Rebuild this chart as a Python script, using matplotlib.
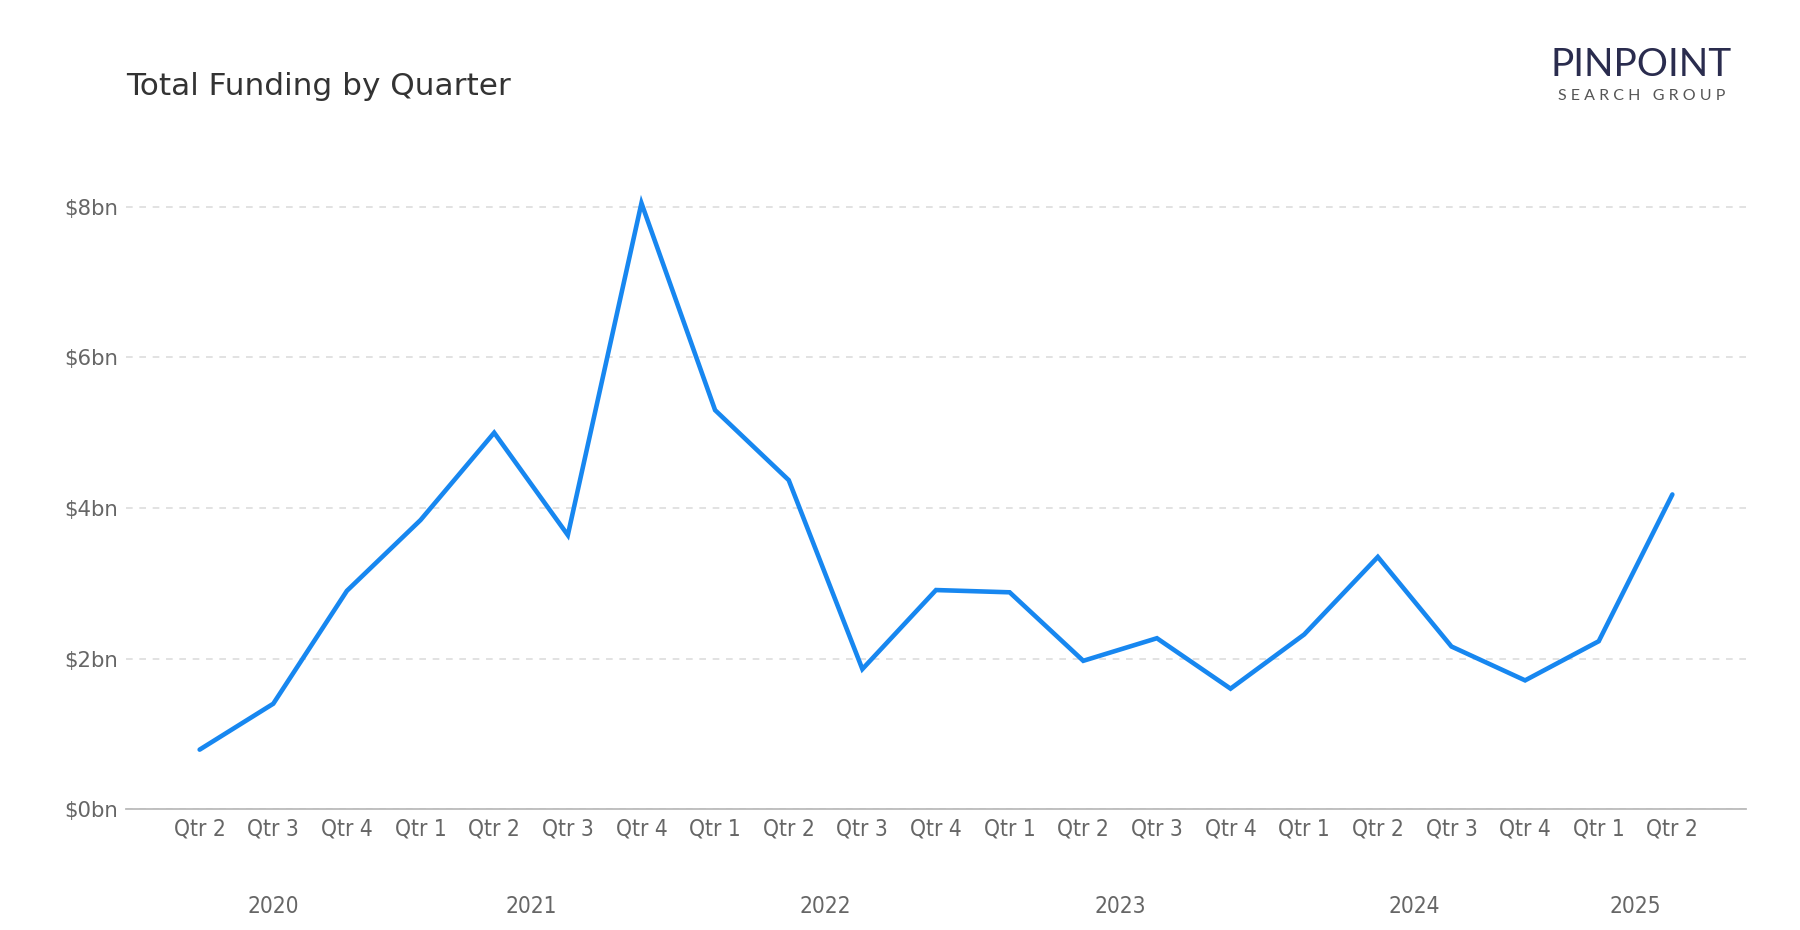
import numpy as np
import matplotlib.pyplot as plt
import matplotlib.transforms as mtransforms

plt.rcParams['font.family'] = ['DejaVu Sans']

# данные
quarters = ['Qtr 2', 'Qtr 3', 'Qtr 4',
            'Qtr 1', 'Qtr 2', 'Qtr 3', 'Qtr 4',
            'Qtr 1', 'Qtr 2', 'Qtr 3', 'Qtr 4',
            'Qtr 1', 'Qtr 2', 'Qtr 3', 'Qtr 4',
            'Qtr 1', 'Qtr 2', 'Qtr 3', 'Qtr 4',
            'Qtr 1', 'Qtr 2']
years = ['2020', '2021', '2022', '2023', '2024', '2025']
year_counts = [3, 4, 4, 4, 4, 2]
funding = [0.79, 1.40, 2.90, 3.84, 5.00, 3.64, 8.05, 5.30, 4.37, 1.86, 2.91,
           2.88, 1.97, 2.27, 1.60, 2.32, 3.35, 2.16, 1.71, 2.23, 4.18]
yticks = [0, 2, 4, 6, 8]

x = np.arange(len(funding))

fig = plt.figure(figsize=(18, 9.3), dpi=100)
ax = fig.add_axes([0.070, 0.130, 0.900, 0.688])
ax.plot(x, funding, color='#1787f0', linewidth=3.3, solid_capstyle='round', solid_joinstyle='miter')

ax.set_xlim(-1, 21)
ax.set_ylim(0, 8.5)
ax.set_yticks(yticks)
ax.set_yticklabels(['$%dbn' % v for v in yticks])
ax.set_xticks(x)
ax.set_xticklabels(quarters, fontstretch='condensed', fontsize=16.3)

ax.grid(axis='y', color='#dddddd', linestyle=(0, (4, 4)), linewidth=1.2)
ax.set_axisbelow(True)
for s in ['top', 'right', 'left']:
    ax.spines[s].set_visible(False)
ax.spines['bottom'].set_color('#bbbbbb')
ax.spines['bottom'].set_linewidth(1.3)
ax.tick_params(axis='both', length=0, labelsize=15.3, labelcolor='#666666')
ax.tick_params(axis='x', pad=6, labelsize=16.3)
ax.tick_params(axis='y', pad=6)

# подписи годов
trans = mtransforms.blended_transform_factory(ax.transData, ax.transAxes)
start = 0
for yr, n in zip(years, year_counts):
    centre = start + (n - 1) / 2
    ax.text(centre, -0.153, yr, transform=trans, ha='center', va='center',
            fontsize=16.3, color='#666666', fontstretch='condensed')
    start += n

fig.text(0.070, 0.907, 'Total Funding by Quarter', fontsize=22.4, color='#333333',
         ha='left', va='center')

# логотип
fig.text(0.912, 0.930, 'PINPOINT', fontsize=28, color='#2a2c4e', ha='center',
         va='center', family=['Lato', 'DejaVu Sans'])
fig.text(0.912, 0.897, 'S E A R C H   G R O U P', fontsize=11.5, color='#555555',
         ha='center', va='center', family=['Lato', 'DejaVu Sans'])

fig.savefig('out.png', dpi=100)
